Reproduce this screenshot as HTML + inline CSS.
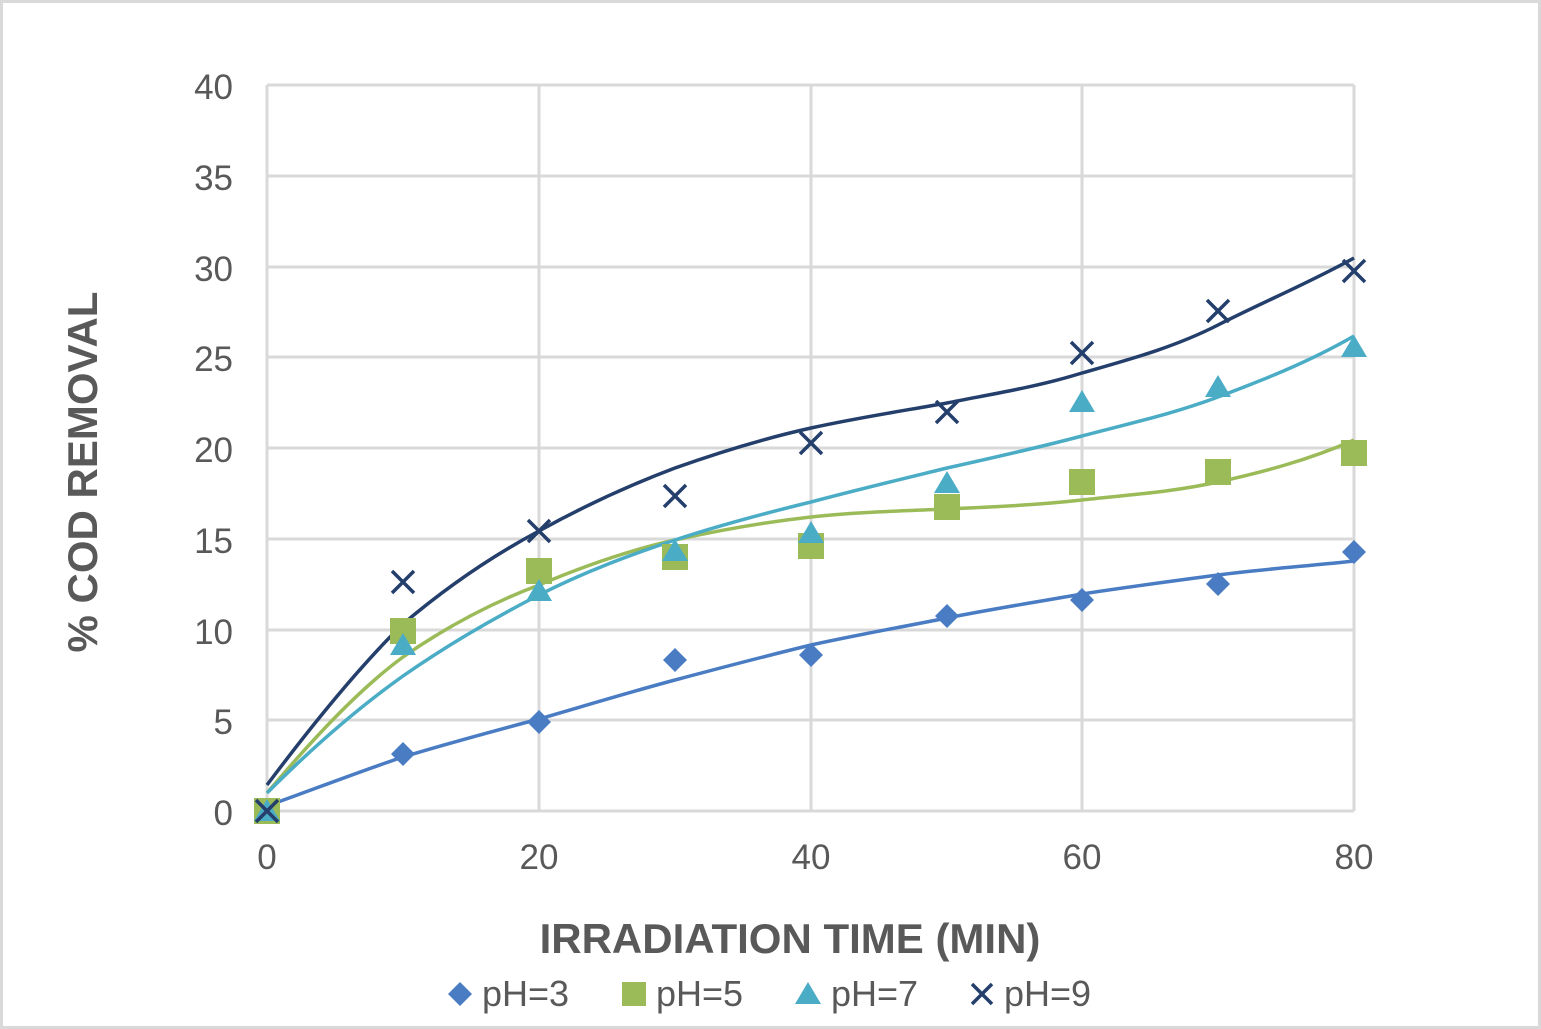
<!DOCTYPE html>
<html><head><style>
html,body{margin:0;padding:0;background:#fff;}
svg{display:block;font-family:"Liberation Sans",Arial,sans-serif;}
</style></head><body>
<svg width="1541" height="1029" viewBox="0 0 1541 1029" xmlns="http://www.w3.org/2000/svg">
<rect x="1.5" y="1.5" width="1538" height="1026" fill="#fff" stroke="#d9d9d9" stroke-width="3"/>
<g stroke="#d9d9d9" stroke-width="3">
<line x1="267" y1="85" x2="1354" y2="85"/><line x1="267" y1="176" x2="1354" y2="176"/>
<line x1="267" y1="267" x2="1354" y2="267"/><line x1="267" y1="357" x2="1354" y2="357"/>
<line x1="267" y1="448" x2="1354" y2="448"/><line x1="267" y1="539" x2="1354" y2="539"/>
<line x1="267" y1="630" x2="1354" y2="630"/><line x1="267" y1="720" x2="1354" y2="720"/>
<line x1="267" y1="811" x2="1354" y2="811"/>
<line x1="267" y1="85" x2="267" y2="811"/><line x1="539" y1="85" x2="539" y2="811"/>
<line x1="811" y1="85" x2="811" y2="811"/><line x1="1082" y1="85" x2="1082" y2="811"/>
<line x1="1354" y1="85" x2="1354" y2="811"/>
</g>
<g fill="#595959" font-size="35" text-anchor="end">
<text x="233" y="99">40</text><text x="233" y="190">35</text><text x="233" y="281">30</text>
<text x="233" y="371">25</text><text x="233" y="462">20</text><text x="233" y="553">15</text>
<text x="233" y="644">10</text><text x="233" y="734">5</text><text x="233" y="825">0</text>
</g>
<g fill="#595959" font-size="35" text-anchor="middle">
<text x="267" y="869">0</text><text x="539" y="869">20</text><text x="811" y="869">40</text>
<text x="1082" y="869">60</text><text x="1354" y="869">80</text>
</g>
<text x="790" y="953" fill="#595959" font-size="42" font-weight="bold" text-anchor="middle">IRRADIATION TIME (MIN)</text>
<text transform="translate(97,472) rotate(-90)" fill="#595959" font-size="42" font-weight="bold" text-anchor="middle">% COD REMOVAL</text>
<g fill="none" stroke-width="3.5" stroke-linejoin="round">
<path stroke="#4a7cc4" d="M267,806 C312,790 358,772 403,757 C449,743 494,731 539,719 C584,706 630,692 675,680 C720,668 766,656 811,645 C856,635 902,627 947,618 C992,609 1037,602 1082,594 C1127,587 1173,581 1218,575 C1263,569 1309,566 1354,561"/>
<path stroke="#9bbb59" d="M267,793 C312,740 358,690 403,657 C449,625 494,602 539,585 C584,566 630,550 675,540 C720,530 766,522 811,517 C856,512 902,511 947,509 C992,507 1037,505 1082,500 C1127,495 1173,492 1218,482 C1263,472 1309,460 1354,440"/>
<path stroke="#4bacc6" d="M267,793 C312,748 358,708 403,676 C449,644 494,618 539,595 C584,572 630,555 675,540 C720,525 766,513 811,502 C856,490 902,479 947,468 C992,458 1037,448 1082,436 C1127,424 1173,414 1218,397 C1263,380 1309,362 1354,336"/>
<path stroke="#243f6b" d="M267,785 C312,725 358,668 403,624 C449,585 494,555 539,531 C584,506 630,485 675,468 C720,452 766,438 811,428 C856,418 902,411 947,403 C992,394 1037,387 1082,373 C1127,360 1173,348 1218,325 C1263,302 1309,283 1354,258"/>
</g>
<g fill="#4a7cc4">
<path d="M267,799 l12,12 l-12,12 l-12,-12z"/><path d="M403,742 l12,12 l-12,12 l-12,-12z"/>
<path d="M539,710 l12,12 l-12,12 l-12,-12z"/><path d="M675,648 l12,12 l-12,12 l-12,-12z"/>
<path d="M811,643 l12,12 l-12,12 l-12,-12z"/><path d="M947,604 l12,12 l-12,12 l-12,-12z"/>
<path d="M1082,588 l12,12 l-12,12 l-12,-12z"/><path d="M1218,572 l12,12 l-12,12 l-12,-12z"/>
<path d="M1354,540 l12,12 l-12,12 l-12,-12z"/>
</g>
<g fill="#9bbb59">
<rect x="254" y="798" width="26" height="26"/><rect x="390" y="618" width="26" height="26"/>
<rect x="526" y="558" width="26" height="26"/><rect x="662" y="544" width="26" height="26"/>
<rect x="798" y="533" width="26" height="26"/><rect x="934" y="494" width="26" height="26"/>
<rect x="1069" y="469" width="26" height="26"/><rect x="1205" y="459" width="26" height="26"/>
<rect x="1341" y="440" width="26" height="26"/>
</g>
<g fill="#4bacc6">
<path d="M267,799 l13,22 h-26z"/><path d="M403,633 l13,22 h-26z"/>
<path d="M539,579 l13,22 h-26z"/><path d="M675,539 l13,22 h-26z"/>
<path d="M811,521 l13,22 h-26z"/><path d="M947,471 l13,22 h-26z"/>
<path d="M1082,390 l13,22 h-26z"/><path d="M1218,375 l13,22 h-26z"/>
<path d="M1354,335 l13,22 h-26z"/>
</g>
<g stroke="#243f6b" stroke-width="3.5">
<path d="M256,800 l22,22 m0,-22 l-22,22"/><path d="M392,571 l22,22 m0,-22 l-22,22"/>
<path d="M528,520 l22,22 m0,-22 l-22,22"/><path d="M664,485 l22,22 m0,-22 l-22,22"/>
<path d="M800,432 l22,22 m0,-22 l-22,22"/><path d="M936,401 l22,22 m0,-22 l-22,22"/>
<path d="M1071,342 l22,22 m0,-22 l-22,22"/><path d="M1207,300 l22,22 m0,-22 l-22,22"/>
<path d="M1343,260 l22,22 m0,-22 l-22,22"/>
</g>
<g font-size="36" fill="#595959">
<path d="M460,982 l12,12 l-12,12 l-12,-12z" fill="#4a7cc4"/>
<text x="482" y="1006">pH=3</text>
<rect x="622" y="982" width="24" height="24" fill="#9bbb59"/>
<text x="656" y="1006">pH=5</text>
<path d="M808,982 l13,22 h-26z" fill="#4bacc6"/>
<text x="831" y="1006">pH=7</text>
<path d="M972,984 l20,20 m0,-20 l-20,20" stroke="#243f6b" stroke-width="3.5"/>
<text x="1004" y="1006">pH=9</text>
</g>
</svg>
</body></html>
